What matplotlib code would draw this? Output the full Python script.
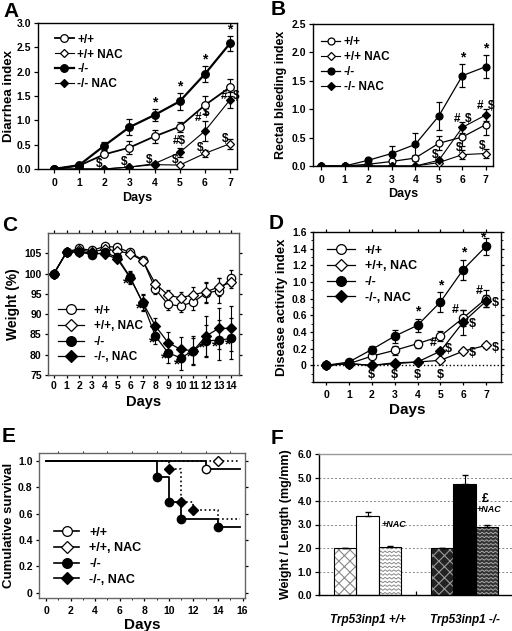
import numpy as np
import matplotlib.pyplot as plt
from matplotlib.patches import Rectangle
from matplotlib.lines import Line2D

plt.rcParams['font.family'] = ['Liberation Sans', 'DejaVu Sans']
plt.rcParams['font.weight'] = 'bold'
plt.rcParams['axes.labelweight'] = 'bold'
plt.rcParams['axes.linewidth'] = 1.0
plt.rcParams['xtick.major.width'] = 0.9
plt.rcParams['ytick.major.width'] = 0.9
plt.rcParams['xtick.major.size'] = 3
plt.rcParams['ytick.major.size'] = 3
plt.rcParams['ytick.major.pad'] = 2
plt.rcParams['hatch.linewidth'] = 0.8

labels_a = ['+/+', '+/+ NAC', '-/-', '-/- NAC']
labels_c = ['+/+', '+/+, NAC', '-/-', '-/-, NAC']

# ---- A: diarrhea index ----
days7 = np.arange(8)
a_wt = [0, 0.07, 0.30, 0.44, 0.67, 0.87, 1.31, 1.68]
a_wt_err = [0, 0.02, 0.04, 0.13, 0.13, 0.10, 0.18, 0.17]
a_wt_nac = [0, 0, 0, 0.04, 0.09, 0.08, 0.32, 0.52]
a_wt_nac_err = [0, 0, 0, 0, 0, 0, 0.07, 0.10]
a_ko = [0, 0.08, 0.48, 0.86, 1.11, 1.39, 1.95, 2.58]
a_ko_err = [0, 0.02, 0.08, 0.17, 0.12, 0.17, 0.16, 0.15]
a_ko_nac = [0, 0, 0, 0.04, 0.11, 0.34, 0.78, 1.42]
a_ko_nac_err = [0, 0, 0, 0, 0.03, 0.10, 0.20, 0.17]

# ---- B: rectal bleeding index ----
b_wt = [0, 0, 0.03, 0.08, 0.14, 0.40, 0.51, 0.73]
b_wt_err = [0, 0, 0, 0.03, 0.06, 0.12, 0.15, 0.18]
b_wt_nac = [0, 0, 0, 0, 0, 0.06, 0.20, 0.22]
b_wt_nac_err = [0, 0, 0, 0, 0, 0.03, 0.08, 0.08]
b_ko = [0, 0, 0.10, 0.22, 0.38, 0.88, 1.59, 1.75]
b_ko_err = [0, 0, 0.03, 0.13, 0.20, 0.24, 0.20, 0.20]
b_ko_nac = [0, 0, 0, 0, 0, 0.10, 0.68, 0.90]
b_ko_nac_err = [0, 0, 0, 0, 0, 0.03, 0.10, 0.10]

# ---- C: weight (%) ----
days14 = np.arange(15)
c_wt = [100, 105.3, 106.2, 105.7, 106.7, 106.5, 105.2, 103.4, 96.2, 92.4, 92.0, 93.0, 95.2, 95.8, 99.0]
c_wt_err = [0, 0.4, 0.4, 0.4, 0.4, 0.4, 0.5, 0.6, 1.2, 1.5, 1.5, 2.0, 2.5, 3.0, 2.0]
c_wt_nac = [100, 105.3, 105.9, 105.3, 106.0, 105.6, 104.9, 103.2, 97.5, 94.7, 94.0, 94.8, 95.5, 96.7, 97.9]
c_wt_nac_err = [0, 0.4, 0.4, 0.4, 0.4, 0.4, 0.5, 0.6, 1.0, 1.3, 1.5, 2.0, 2.5, 2.3, 1.5]
c_ko = [100, 105.3, 105.3, 104.7, 105.2, 104.0, 99.2, 92.8, 84.6, 80.5, 79.2, 81.0, 83.4, 83.6, 84.0]
c_ko_err = [0, 0.4, 0.4, 0.4, 0.5, 0.6, 1.5, 2.0, 2.0, 2.5, 3.0, 3.5, 4.0, 5.0, 5.0]
c_ko_nac = [100, 105.3, 105.4, 105.0, 104.8, 103.6, 99.0, 92.9, 87.1, 83.0, 81.3, 81.0, 84.6, 86.5, 86.5]
c_ko_nac_err = [0, 0.4, 0.4, 0.4, 0.5, 0.6, 1.5, 2.0, 2.0, 2.5, 3.0, 3.2, 5.0, 5.0, 5.5]
c_star_days = [6, 7, 8, 9, 10, 11, 12, 13, 14]

# ---- D: disease activity index ----
d_wt = [0, 0.02, 0.11, 0.18, 0.26, 0.35, 0.57, 0.80]
d_wt_err = [0, 0, 0.02, 0.05, 0.05, 0.06, 0.10, 0.10]
d_wt_nac = [0, 0.02, 0.0, 0.03, 0.04, 0.06, 0.17, 0.24]
d_wt_nac_err = [0, 0, 0, 0, 0, 0.01, 0.02, 0.03]
d_ko = [0, 0.04, 0.19, 0.35, 0.48, 0.76, 1.15, 1.43]
d_ko_err = [0, 0.01, 0.04, 0.08, 0.08, 0.12, 0.12, 0.10]
d_ko_nac = [0, 0.02, 0.0, 0.02, 0.04, 0.17, 0.52, 0.77]
d_ko_nac_err = [0, 0, 0, 0, 0, 0.03, 0.15, 0.07]

# ---- E: survival (time, survival fraction) ----
e_wt_t = [0, 13, 15.8]
e_wt_s = [1.0, 0.9375, 0.9375]
e_wt_mark = ([13], [0.9375])
e_wt_nac_t = [0, 15.8]
e_wt_nac_s = [1.0, 1.0]
e_wt_nac_mark = ([14], [1.0])
e_ko_t = [0, 9, 10, 11, 14, 15.8]
e_ko_s = [1.0, 0.875, 0.6875, 0.5625, 0.5, 0.5]
e_ko_mark = ([9, 10, 11, 14], [0.875, 0.6875, 0.5625, 0.5])
e_ko_nac_t = [0, 10, 11, 12, 14, 15.8]
e_ko_nac_s = [1.0, 0.9375, 0.6875, 0.625, 0.5625, 0.5625]
e_ko_nac_mark = ([10, 11, 12], [0.9375, 0.6875, 0.625])

# ---- F: colon weight / length ----
f_groups = ['Trp53inp1 +/+', 'Trp53inp1 -/-']
f_ctrl = [1.98, 1.98]
f_ctrl_err = [0.03, 0.02]
f_dss = [3.35, 4.72]
f_dss_err = [0.20, 0.37]
f_nac = [2.03, 2.88]
f_nac_err = [0.05, 0.12]

W, H = 512, 631
fig = plt.figure(figsize=(W / 100, H / 100), dpi=100)


def box(l, t, r, b):
    return fig.add_axes([l / W, 1 - b / H, (r - l) / W, (b - t) / H])


def line(ax, x, y, err, marker, face, lw, ms, cap=2):
    ax.errorbar(x, y, yerr=err, color='k', marker=marker, mfc=face, mec='k',
                mew=0.9, ms=ms, lw=lw, elinewidth=0.8, capsize=cap,
                capthick=0.8, zorder=3)


def handles(lws, ms_o, ms_d):
    out = []
    for mk, fc, lw in zip(['o', 'D', 'o', 'D'], ['white', 'white', 'k', 'k'], lws):
        out.append(Line2D([], [], color='k', marker=mk, mfc=fc, mec='k', mew=0.9,
                          ms=ms_o if mk == 'o' else ms_d, lw=lw))
    return out


def marks(ax, x, y, txt, dx=0.0, dy=0.0, size=9, ha='center', va='bottom'):
    for xi, yi in zip(x, y):
        ax.text(xi + dx, yi + dy, txt, ha=ha, va=va, fontsize=size, fontweight='bold')


def letter(x, y, s):
    fig.text(x / W, 1 - y / H, s, fontsize=15, fontweight='bold', va='top', ha='left')


# ======== A ========
ax = box(38, 23, 237, 169)
line(ax, days7, a_wt, a_wt_err, 'o', 'white', 1.3, 5.5)
line(ax, days7, a_wt_nac, a_wt_nac_err, 'D', 'white', 0.8, 4)
line(ax, days7, a_ko, a_ko_err, 'o', 'k', 1.6, 5.5)
line(ax, days7, a_ko_nac, a_ko_nac_err, 'D', 'k', 0.8, 4)
ax.set_xlim(-0.64, 7.28)
ax.set_ylim(0, 3.0)
ax.set_xticks(days7)
ax.set_yticks(np.arange(0, 3.01, 0.5))
ax.set_yticklabels([f'{v:.1f}' for v in np.arange(0, 3.01, 0.5)])
ax.tick_params(labelsize=7.5, direction='out')
ax.set_xlabel('Days', fontsize=9, labelpad=3)
ax.set_ylabel('Diarrhea index', fontsize=9.5, labelpad=1)
ko = np.array(a_ko) + np.array(a_ko_err)
marks(ax, days7[4:], ko[4:], '*', dy=0.0, size=10)
marks(ax, days7[2:], np.array(a_wt_nac[2:]) - 0.02, '$', dx=-0.2, size=8.5, va='bottom')
kn = np.array(a_ko_nac) + np.array(a_ko_nac_err)
ax.text(5, kn[5] + 0.02, '#$', ha='center', va='bottom', fontsize=8.5)
ax.text(5.85, kn[6] - 0.05, '#', ha='right', va='bottom', fontsize=8.5)
ax.text(6.05, kn[6] + 0.05, '$', ha='center', va='bottom', fontsize=8.5)
ax.text(6.9, a_ko_nac[7] - 0.05, '#', ha='right', va='bottom', fontsize=8.5)
ax.text(7.1, a_ko_nac[7] - 0.05, '$', ha='left', va='bottom', fontsize=8.5)
ax.legend(handles([1.3, 0.8, 1.6, 0.8], 5.5, 4), labels_a, loc='upper left',
          bbox_to_anchor=(0.06, 0.96), frameon=False,
          fontsize=8.5, handlelength=1.6, handletextpad=0.3, labelspacing=0.25,
          borderaxespad=0)
letter(3, 2, 'A')

# ======== B ========
ax = box(313, 24, 493, 166)
line(ax, days7, b_wt, b_wt_err, 'o', 'white', 0.9, 5)
line(ax, days7, b_wt_nac, b_wt_nac_err, 'D', 'white', 0.8, 4)
line(ax, days7, b_ko, b_ko_err, 'o', 'k', 0.9, 5)
line(ax, days7, b_ko_nac, b_ko_nac_err, 'D', 'k', 0.8, 4)
ax.set_xlim(-0.34, 7.3)
ax.set_ylim(0, 2.5)
ax.set_xticks(days7)
ax.set_yticks(np.arange(0, 2.51, 0.5))
ax.set_yticklabels([f'{v:.1f}' for v in np.arange(0, 2.51, 0.5)])
ax.tick_params(labelsize=7.5, direction='out')
ax.set_xlabel('Days', fontsize=9, labelpad=2)
ax.set_ylabel('Rectal bleeding index', fontsize=9, labelpad=3)
bk = np.array(b_ko) + np.array(b_ko_err)
marks(ax, days7[6:], bk[6:], '*', size=10)
ax.text(5.9, b_ko_nac[6] + 0.05, '#', ha='right', va='bottom', fontsize=8.5)
ax.text(6.1, b_ko_nac[6] + 0.05, '$', ha='left', va='bottom', fontsize=8.5)
ax.text(6.9, b_ko_nac[7] + 0.05, '#', ha='right', va='bottom', fontsize=8.5)
ax.text(7.1, b_ko_nac[7] + 0.05, '$', ha='left', va='bottom', fontsize=8.5)
marks(ax, days7[5:], np.array(b_wt_nac[5:]) + 0.02, '$', dx=-0.15, size=8.5)
ax.legend(handles([0.9, 0.8, 0.9, 0.8], 5, 4), labels_a, loc='upper left',
          bbox_to_anchor=(0.02, 0.95), frameon=False,
          fontsize=8.5, handlelength=1.6, handletextpad=0.3, labelspacing=0.25,
          borderaxespad=0)
letter(271, 0, 'B')

# ======== C ========
ax = box(48, 233, 239, 375)
line(ax, days14, c_wt, c_wt_err, 'o', 'white', 0.9, 6, cap=1.5)
line(ax, days14, c_wt_nac, c_wt_nac_err, 'D', 'white', 0.9, 5, cap=1.5)
line(ax, days14, c_ko, c_ko_err, 'o', 'k', 0.9, 6, cap=1.5)
line(ax, days14, c_ko_nac, c_ko_nac_err, 'D', 'k', 0.9, 5, cap=1.5)
ax.set_xlim(-0.47, 14.6)
ax.set_ylim(75, 110)
ax.set_xticks(days14)
ax.set_yticks(np.arange(75, 106, 5))
ax.tick_params(labelsize=7.5, direction='out', right=True, top=True, length=2.5)
ax.tick_params(axis='x', pad=2)
ax.set_xlabel('Days', fontsize=10.5, labelpad=3)
ax.set_ylabel('Weight (%)', fontsize=10, labelpad=3)
for s in ax.spines.values():
    s.set_color('#555555')
lo = np.minimum(c_ko, c_ko_nac)
for d in c_star_days:
    ax.text(d - 0.3, lo[d] - 1.5, '*', ha='center', va='center', fontsize=11)
ax.legend(handles([0.9] * 4, 7, 6), labels_c, loc='lower left',
          bbox_to_anchor=(0.03, 0.05), frameon=False,
          fontsize=8.5, handlelength=2.2, handletextpad=0.8, labelspacing=0.3,
          borderaxespad=0)
letter(2, 216, 'C')

# ======== D ========
ax = box(313, 232, 501, 382)
ax.axhline(0, color='k', ls=':', lw=1.0, zorder=1)
line(ax, days7, d_wt, d_wt_err, 'o', 'white', 0.9, 6)
line(ax, days7, d_wt_nac, d_wt_nac_err, 'D', 'white', 0.9, 5)
line(ax, days7, d_ko, d_ko_err, 'o', 'k', 0.9, 6)
line(ax, days7, d_ko_nac, d_ko_nac_err, 'D', 'k', 0.9, 5)
ax.set_xlim(-0.57, 7.65)
ax.set_ylim(-0.2, 1.6)
ax.set_xticks(days7)
dy = np.arange(0, 1.61, 0.2)
ax.set_yticks(dy)
ax.set_yticklabels(['0'] + [f'{v:.1f}' for v in dy[1:]])
ax.set_yticks(np.arange(-0.2, 1.61, 0.1), minor=True)
ax.tick_params(labelsize=7.5, direction='out', right=True, top=True, length=2.5)
ax.tick_params(which='minor', right=True, left=True, length=1.5)
ax.set_xlabel('Days', fontsize=11, labelpad=2)
ax.set_ylabel('Disease activity index', fontsize=9.5, labelpad=3)
dk = np.array(d_ko) + np.array(d_ko_err)
marks(ax, days7[4:7], dk[4:7], '*', size=10)
ax.text(6.85, dk[7] - 0.08, '*', ha='center', va='bottom', fontsize=10)
dn = np.array(d_ko_nac)
ax.text(4.85, dn[5] + 0.02, '#', ha='right', va='bottom', fontsize=9)
ax.text(5.2, dn[5] - 0.05, '$', ha='left', va='bottom', fontsize=9)
ax.text(5.8, d_wt[6] + 0.02, '#', ha='right', va='bottom', fontsize=9)
ax.text(6.25, dn[6] - 0.1, '$', ha='left', va='bottom', fontsize=9)
ax.text(6.85, d_wt[7] + 0.02, '#', ha='right', va='bottom', fontsize=9)
ax.text(7.25, dn[7] - 0.1, '$', ha='left', va='bottom', fontsize=9)
ax.text(6.25, d_wt_nac[6] - 0.1, '$', ha='left', va='bottom', fontsize=9)
ax.text(7.25, d_wt_nac[7] - 0.1, '$', ha='left', va='bottom', fontsize=9)
for d in days7[2:6]:
    ax.text(d, -0.04, '$', ha='center', va='top', fontsize=9)
ax.legend(handles([0.9] * 4, 7, 6), labels_c, loc='upper left',
          bbox_to_anchor=(0.05, 0.95), frameon=False,
          fontsize=9, handlelength=2.2, handletextpad=0.8, labelspacing=0.3,
          borderaxespad=0)
letter(269, 214, 'D')

# ======== E ========
ax = box(39, 453, 245, 598)
ax.step(e_wt_nac_t, e_wt_nac_s, where='post', color='k', ls=':', lw=1.2)
ax.step(e_ko_nac_t, e_ko_nac_s, where='post', color='k', ls=':', lw=1.2)
ax.step(e_wt_t, e_wt_s, where='post', color='k', lw=1.3)
ax.step(e_ko_t, e_ko_s, where='post', color='k', lw=1.3)
ax.plot(*e_wt_mark, 'o', mfc='white', mec='k', ms=6, ls='none', zorder=4)
ax.plot(*e_wt_nac_mark, 'D', mfc='white', mec='k', ms=5, ls='none', zorder=4)
ax.plot(*e_ko_mark, 'o', mfc='k', mec='k', ms=6, ls='none', zorder=4)
ax.plot(*e_ko_nac_mark, 'D', mfc='k', mec='k', ms=5, ls='none', zorder=4)
ax.set_xlim(-0.57, 16.2)
ax.set_ylim(-0.04, 1.06)
ax.set_xticks(np.arange(0, 17, 2))
ax.set_xticks(np.arange(0, 17, 1), minor=True)
ey = np.arange(0, 1.01, 0.2)
ax.set_yticks(ey)
ax.set_yticklabels(['0'] + [f'{v:.1f}' for v in ey[1:]])
ax.tick_params(labelsize=7.5, direction='out', right=True, length=2.5)
ax.tick_params(which='minor', length=1.5, top=True)
ax.set_xlabel('Days', fontsize=11, labelpad=1)
ax.set_ylabel('Cumulative survival', fontsize=9.5, labelpad=2)
for s in ax.spines.values():
    s.set_color('#666666')
ax.legend(handles([1.2] * 4, 7, 6), labels_c, loc='lower left',
          bbox_to_anchor=(0.05, 0.05), frameon=False,
          fontsize=9, handlelength=2.0, handletextpad=0.8, labelspacing=0.3,
          borderaxespad=0)
letter(2, 427, 'E')

# ======== F ========
ax = box(319, 454, 513, 595)
centers = np.array([0.5, 1.5])
bw = 0.227
for yv in [1, 2, 3, 4, 5]:
    ax.axhline(yv, color='#888888', ls=(0, (2, 2)), lw=0.7, zorder=0)


def hatched(x, h, face, hatch_col, pattern):
    ax.bar(x, h, bw, color=face, edgecolor=hatch_col, hatch=pattern if pattern == 'xxx' else None,
           linewidth=0, zorder=2)
    if pattern == 'zig':
        rect = Rectangle((x - bw / 2, 0), bw, h, transform=ax.transData, visible=False)
        ax.add_patch(rect)
        n = 11
        xs = np.linspace(x - bw / 2, x + bw / 2, n)
        amp = 0.07
        for y0 in np.arange(0.04, h + 0.2, 0.16):
            ys = y0 + amp * (np.arange(n) % 2)
            ln, = ax.plot(xs, ys, color=hatch_col, lw=0.7, zorder=2.5)
            ln.set_clip_path(rect)
    ax.bar(x, h, bw, fill=False, edgecolor='k', linewidth=0.8, zorder=3)


hatched(centers[0] - bw, f_ctrl[0], 'white', '#888888', 'xxx')
hatched(centers[0], f_dss[0], 'white', 'k', None)
hatched(centers[0] + bw, f_nac[0], 'white', '#888888', 'zig')
hatched(centers[1] - bw, f_ctrl[1], '#222222', '#999999', 'xxx')
hatched(centers[1], f_dss[1], 'black', 'k', None)
hatched(centers[1] + bw, f_nac[1], '#333333', '#aaaaaa', 'zig')
ax.errorbar(centers - bw, f_ctrl, yerr=[[0, 0], f_ctrl_err], fmt='none', ecolor='k',
            elinewidth=0.8, capsize=2.5, zorder=4)
ax.errorbar(centers, f_dss, yerr=[[0, 0], f_dss_err], fmt='none', ecolor='k',
            elinewidth=0.8, capsize=2.5, zorder=4)
ax.errorbar(centers + bw, f_nac, yerr=[[0, 0], f_nac_err], fmt='none', ecolor='k',
            elinewidth=0.8, capsize=2.5, zorder=4)
ax.text(centers[0] + bw * 0.65, f_dss[0] - 0.35, '+NAC', fontsize=6.5, style='italic',
        ha='left', va='center')
ax.text(centers[1] + bw * 0.55, f_dss[1] - 1.1, '+NAC', fontsize=6.5, style='italic',
        ha='left', va='center')
ax.text(centers[1] + bw * 0.95, f_dss[1] - 0.65, '£', fontsize=9, ha='center', va='center')
ax.set_xlim(0, 2)
ax.set_ylim(0, 6)
ax.set_xticks([0, 1, 2])
ax.set_xticklabels([])
ax.set_xticks(centers, minor=True)
ax.set_xticklabels(f_groups, minor=True, fontsize=8.5, style='italic')
ax.tick_params(axis='x', which='minor', length=0, pad=14)
ax.tick_params(axis='x', which='major', direction='in', length=3)
ax.set_yticks(np.arange(0, 6.1, 1))
ax.set_yticklabels([f'{v:.1f}' for v in np.arange(0, 6.1, 1)])
ax.tick_params(axis='y', labelsize=7.5, direction='out', length=3)
ax.set_ylabel('Weight / Length (mg/mm)', fontsize=9, labelpad=4)
for k, s in ax.spines.items():
    s.set_color('#999999')
ax.spines['bottom'].set_color('k')
ax.spines['left'].set_color('k')
letter(271, 429, 'F')

fig.savefig('out.png', dpi=100)
